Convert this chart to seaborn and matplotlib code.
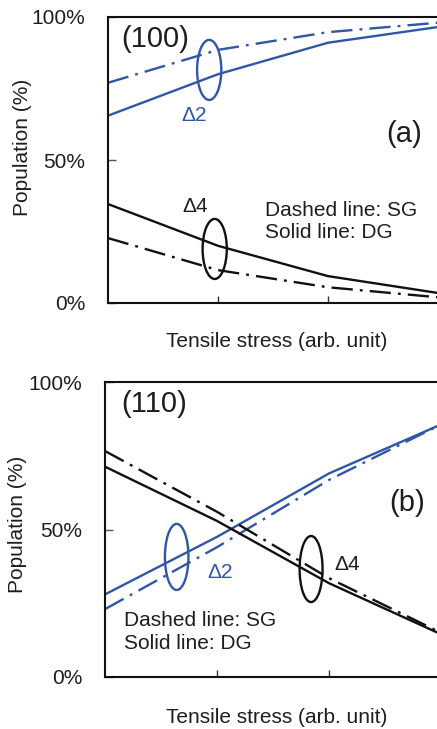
import matplotlib
matplotlib.use("Agg")
import matplotlib.pyplot as plt
from matplotlib.patches import Ellipse
import seaborn as sns
import pandas as pd

# Stress steps (arbitrary units)
stress = [0, 1, 2, 3]

# (100) surface: valley populations (%)
a_d2_dg = [65.5, 80.0, 91.0, 96.5]
a_d2_sg = [77.0, 88.5, 94.7, 98.0]
a_d4_dg = [34.6, 20.0, 9.4, 3.5]
a_d4_sg = [22.7, 11.5, 5.5, 2.0]

# (110) surface: valley populations (%)
b_d2_dg = [28.0, 47.5, 69.0, 85.6]
b_d2_sg = [23.0, 44.0, 66.8, 85.6]
b_d4_dg = [71.3, 52.9, 31.8, 14.5]
b_d4_sg = [76.6, 56.0, 33.5, 15.0]

y_ticks = [0, 50, 100]
y_ticklabels = ["0%", "50%", "100%"]

sns.set_style("white")
plt.rcParams["font.family"] = ["Liberation Sans", "DejaVu Sans"]

BLUE = "#3056a8"
BLACK = "#111111"
TXT = "#1e1e1e"
FS = 15
LW = 1.7

W, H = 437, 729
fig = plt.figure(figsize=(W / 100, H / 100), dpi=100)


def frame(series):
    rows = []
    for name, vals in series.items():
        for x, v in zip(stress, vals):
            rows.append({"stress": x, "pop": v, "curve": name})
    return pd.DataFrame(rows)


def panel(rect, curves, xmax, texts, ellipses, ylab_y):
    ax = fig.add_axes(rect)
    df = frame({k: v[0] for k, v in curves.items()})
    for name, (vals, color, dashed) in curves.items():
        sub = df[df["curve"] == name]
        sns.lineplot(data=sub, x="stress", y="pop", ax=ax, color=color,
                     lw=LW, legend=False)
        if dashed:
            ax.lines[-1].set_dashes((9, 3, 1.2, 3))
    ax.set_xlim(0, xmax)
    ax.set_ylim(0, 100)
    ax.set_xticks([1, 2])
    ax.set_xticklabels([])
    ax.set_yticks(y_ticks)
    ax.set_yticklabels(y_ticklabels)
    ax.tick_params(axis="x", bottom=True, direction="in", length=5, width=1,
                   color="#333333")
    ax.tick_params(axis="y", left=True, direction="in", length=6, width=1,
                   color="#555555", pad=16.5, labelsize=FS, labelcolor=TXT)
    for s in ["left", "bottom", "top"]:
        ax.spines[s].set_color(BLACK)
        ax.spines[s].set_linewidth(1.5)
    ax.spines["right"].set_visible(False)
    ax.set_xlabel("Tensile stress (arb. unit)", fontsize=FS, color=TXT, va="center")
    ax.set_ylabel("Population (%)", fontsize=FS, color=TXT, va="center")
    ax.xaxis.set_label_coords(0.51, -0.136)
    ax.yaxis.set_label_coords(-0.26, ylab_y)
    for (x, y, s, color, size, ha) in texts:
        ax.text(x, y, s, color=color, fontsize=size, ha=ha, va="center")
    for (x, y, w, h, color) in ellipses:
        ax.add_patch(Ellipse((x, y), w, h, fill=False, edgecolor=color, lw=LW))
    return ax


# Panel (a): (100)
panel(
    [108 / W, 1 - 303 / H, 330 / W, 286 / H],
    {
        "a_d2_dg": (a_d2_dg, BLUE, False),
        "a_d2_sg": (a_d2_sg, BLUE, True),
        "a_d4_dg": (a_d4_dg, BLACK, False),
        "a_d4_sg": (a_d4_sg, BLACK, True),
    },
    3.0,
    [
        (0.43, 92.3, "(100)", TXT, 21, "center"),
        (2.69, 59.1, "(a)", TXT, 21, "center"),
        (0.78, 65.4, "Δ2", BLUE, FS, "center"),
        (0.79, 33.9, "Δ4", TXT, FS, "center"),
        (1.427, 32.5, "Dashed line: SG", TXT, FS, "left"),
        (1.427, 24.5, "Solid line: DG", TXT, FS, "left"),
    ],
    [
        (0.92, 81.5, 0.22, 21.0, BLUE),
        (0.97, 18.9, 0.22, 21.0, BLACK),
    ],
    0.544,
)

# Panel (b): (110)
panel(
    [105 / W, 1 - 677 / H, 336 / W, 295 / H],
    {
        "b_d2_dg": (b_d2_dg, BLUE, False),
        "b_d2_sg": (b_d2_sg, BLUE, True),
        "b_d4_dg": (b_d4_dg, BLACK, False),
        "b_d4_sg": (b_d4_sg, BLACK, True),
    },
    3.0,
    [
        (0.44, 92.4, "(110)", TXT, 21, "center"),
        (2.70, 59.0, "(b)", TXT, 21, "center"),
        (1.03, 35.4, "Δ2", BLUE, FS, "center"),
        (2.16, 38.0, "Δ4", TXT, FS, "center"),
        (0.17, 19.0, "Dashed line: SG", TXT, FS, "left"),
        (0.17, 11.2, "Solid line: DG", TXT, FS, "left"),
    ],
    [
        (0.64, 40.7, 0.21, 22.4, BLUE),
        (1.84, 36.6, 0.205, 22.4, BLACK),
    ],
    0.519,
)

fig.savefig("out.png", dpi=100)
